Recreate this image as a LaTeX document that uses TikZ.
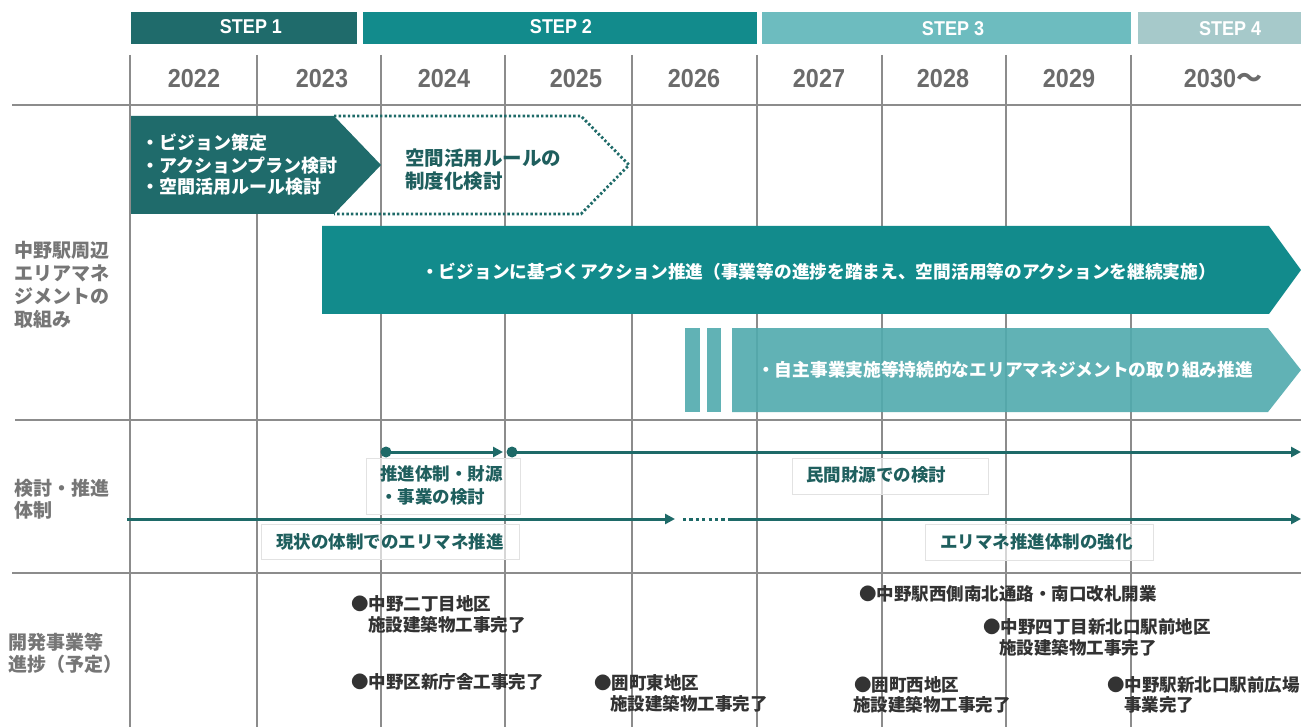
\documentclass[tikz,border=0pt]{standalone}
\usepackage{fontspec}
\setmainfont{Liberation Sans}
\newfontfamily\jp{Noto Sans CJK JP}
\newfontfamily\cond[FakeStretch=0.9]{Liberation Sans}
\usetikzlibrary{arrows.meta}
\definecolor{stepA}{HTML}{1F6B6B}
\definecolor{stepB}{HTML}{128B8C}
\definecolor{stepC}{HTML}{6DBCBF}
\definecolor{stepD}{HTML}{A6C9CA}
\definecolor{lightarr}{HTML}{50AAAE}
\definecolor{tealline}{HTML}{1E6A68}
\definecolor{tealtext}{HTML}{1F5F5E}
\definecolor{gridc}{HTML}{8C8C8C}
\definecolor{labelc}{HTML}{767676}
\definecolor{yearc}{HTML}{6B6B6B}
\definecolor{darktext}{HTML}{333333}
\definecolor{boxline}{HTML}{E2E2E2}
\tikzset{
  vgrid/.style={draw=gridc, line width=1.1},
  hgrid/.style={draw=gridc, line width=1.6},
  steptxt/.style={font=\cond\bfseries\fontsize{20}{22}\selectfont, text=white, inner sep=0pt},
  yeartxt/.style={font=\cond\bfseries\fontsize{26}{28}\selectfont, text=yearc, inner sep=0pt},
  jpbase/.style={inner sep=0pt, anchor=west},
  wt/.style={jpbase, font=\jp\bfseries\fontsize{18}{21}\selectfont, text=white, text height=14.8pt, text depth=1.3pt},
  wtb/.style={jpbase, font=\jp\bfseries\fontsize{17.7}{21}\selectfont, text=white, text height=14.5pt, text depth=1.2pt},
  tt/.style={jpbase, font=\jp\bfseries\fontsize{17.5}{21}\selectfont, text=tealtext, text height=14.35pt, text depth=1.2pt},
  ttl/.style={jpbase, font=\jp\bfseries\fontsize{19.5}{23}\selectfont, text=tealtext, text height=16pt, text depth=1.35pt},
  lbl/.style={jpbase, font=\jp\bfseries\fontsize{19}{23}\selectfont, text=labelc, text height=15.6pt, text depth=1.3pt},
  bt/.style={jpbase, font=\jp\bfseries\fontsize{17.5}{21}\selectfont, text=darktext, text height=14.35pt, text depth=1.2pt},
  tbox/.style={draw=boxline, fill=white, fill opacity=0.65, line width=0.8},
  flow/.style={draw=tealline, line width=3, -{Triangle[length=10pt,width=10pt]}},
  dotline/.style={draw=tealline, line width=3, dash pattern=on 3.2pt off 3.2pt},
  dotoutline/.style={draw=tealline, line width=2.8, dash pattern=on 2.4pt off 2.2pt},
}
\begin{document}
\begin{tikzpicture}[x=1pt,y=-1pt]
\useasboundingbox (0,0) rectangle (1301,727);
\fill[white] (0,0) rectangle (1301,727);

% step bars
\fill[stepA] (131,12) rectangle (357,44);
\fill[stepB] (363,12) rectangle (757,44);
\fill[stepC] (762,12) rectangle (1131,44);
\fill[stepD] (1138,12) rectangle (1301,44);
\node[steptxt] (s1) at (251,27) {STEP 1};
\node[steptxt] (s2) at (561,27) {STEP 2};
\node[steptxt] (s3) at (953,28.5) {STEP 3};
\node[steptxt] (s4) at (1230,28.5) {STEP 4};

% grid
\foreach \x in {130,257,381,505,632,757,882,1006,1131} \draw[vgrid] (\x,55) -- (\x,727);
\draw[hgrid] (12,105) -- (1301,105);
\draw[hgrid] (15,420) -- (1301,420);
\draw[hgrid] (12,573) -- (1301,573);

% years
\node[yeartxt] (y22) at (194,78.5) {2022};
\node[yeartxt] (y23) at (322,78.5) {2023};
\node[yeartxt] (y24) at (444,78.5) {2024};
\node[yeartxt] (y25) at (576,78.5) {2025};
\node[yeartxt] (y26) at (694,78.5) {2026};
\node[yeartxt] (y27) at (819,78.5) {2027};
\node[yeartxt] (y28) at (943,78.5) {2028};
\node[yeartxt] (y29) at (1069,78.5) {2029};
\node[yeartxt] (y30) at (1223,78.5) {2030{\jp\bfseries ～}};

% left labels
\node[lbl] (l1a) at (14,250) {中野駅周辺};
\node[lbl] (l1b) at (14,273) {エリアマネ};
\node[lbl] (l1c) at (14,296) {ジメントの};
\node[lbl] (l1d) at (14,319) {取組み};
\node[lbl] (l2a) at (14,488) {検討・推進};
\node[lbl] (l2b) at (14,510) {体制};
\node[lbl] (l3a) at (8,642) {開発事業等};
\node[lbl] (l3b) at (8,664) {進捗（予定）};

% section 1 arrows
\fill[stepA] (131,116) -- (334,116) -- (381,165) -- (334,214) -- (131,214) -- cycle;
\draw[dotoutline] (334,116) -- (581,116) -- (629,165) -- (581,214) -- (334,214);
\fill[stepB] (322,226) -- (1269,226) -- (1301,270) -- (1269,314) -- (322,314) -- cycle;
\fill[lightarr, fill opacity=0.9] (685,328) rectangle (700,412);
\fill[lightarr, fill opacity=0.9] (707,328) rectangle (721,412);
\fill[lightarr, fill opacity=0.9] (732,328) -- (1268,328) -- (1301,370) -- (1268,412) -- (732,412) -- cycle;

\node[wt] (v1) at (141,143) {・ビジョン策定};
\node[wt] (v2) at (141,166) {・アクションプラン検討};
\node[wt] (v3) at (141,187) {・空間活用ルール検討};
\node[ttl] (r1) at (405,158) {空間活用ルールの};
\node[ttl] (r2) at (405,181) {制度化検討};
\node[wtb] (big) at (421,272) {・ビジョンに基づくアクション推進（事業等の進捗を踏まえ、空間活用等のアクションを継続実施）};
\node[wtb] (lite) at (757,370) {・自主事業実施等持続的なエリアマネジメントの取り組み推進};

% section 2
\draw[tbox] (366,458) rectangle (520,514);
\draw[tbox] (792,458) rectangle (988,494);
\draw[tbox] (261,524) rectangle (519,559);
\draw[tbox] (925,524) rectangle (1153,560);

\coordinate (a1) at (386,452);
\coordinate (a2) at (503,452);
\coordinate (b1) at (512,452);
\coordinate (b2) at (1301,452);
\coordinate (c0) at (127,519);
\coordinate (c1) at (675,519);
\coordinate (d0) at (683,519);
\coordinate (d1) at (731,519);
\coordinate (c2) at (1301,519);
\draw[flow] (a1) -- (a2);
\fill[tealline] (a1) circle (5.5);
\draw[flow] (b1) -- (b2);
\fill[tealline] (b1) circle (5.5);
\draw[flow] (c0) -- (c1);
\draw[dotline] (d0) -- (d1);
\draw[flow] (d1) -- (c2);

\node[tt] (k1) at (380,474) {推進体制・財源};
\node[tt] (k2) at (380,497) {・事業の検討};
\node[tt] (k3) at (806,475) {民間財源での検討};
\node[tt] (k4) at (276,542) {現状の体制でのエリマネ推進};
\node[tt] (k5) at (940,542) {エリマネ推進体制の強化};

% section 3
\node[bt] (p1a) at (351,604) {●中野二丁目地区};
\node[bt] (p1b) at (368,625) {施設建築物工事完了};
\node[bt] (p2) at (351,682) {●中野区新庁舎工事完了};
\node[bt] (p3a) at (594,683) {●囲町東地区};
\node[bt] (p3b) at (610,704) {施設建築物工事完了};
\node[bt] (p4) at (859,594) {●中野駅西側南北通路・南口改札開業};
\node[bt] (p5a) at (983,627) {●中野四丁目新北口駅前地区};
\node[bt] (p5b) at (999,648) {施設建築物工事完了};
\node[bt] (p6a) at (854,685) {●囲町西地区};
\node[bt] (p6b) at (853,705) {施設建築物工事完了};
\node[bt] (p7a) at (1107,685) {●中野駅新北口駅前広場};
\node[bt] (p7b) at (1124,705) {事業完了};
\end{tikzpicture}
\end{document}
